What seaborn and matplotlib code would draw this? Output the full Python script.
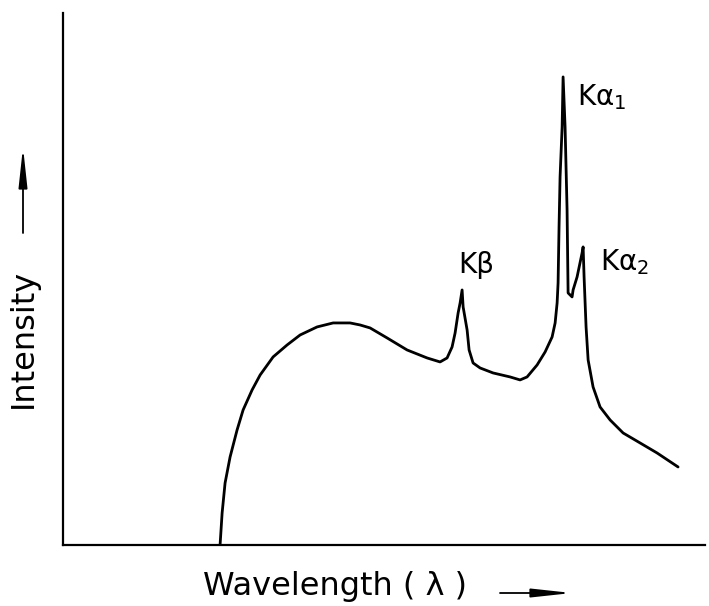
import numpy as np
import pandas as pd
import matplotlib
matplotlib.use("Agg")
import matplotlib.pyplot as plt
import seaborn as sns

sns.set_theme(style="white")
plt.rcParams['font.family'] = ['DejaVu Sans']
plt.rcParams['mathtext.fontset'] = 'dejavusans'

# --- dane (jednostki umowne) ---
wavelength = [24.45, 24.77, 25.23, 26.01, 27.10, 28.04, 29.44, 30.69, 32.71, 34.89,
              36.92, 39.56, 42.06, 44.70, 46.26, 47.82, 50.47, 53.58, 56.70, 58.72,
              59.81, 60.59, 61.06, 61.53, 61.84, 62.15, 62.31, 62.93, 63.24, 63.86,
              64.95, 66.98, 69.63, 71.18, 72.27, 73.83, 75.08, 76.17, 76.64, 76.95,
              77.10, 77.25, 77.41, 77.73, 77.88, 78.19, 78.50, 78.66, 79.28, 79.44,
              80.06, 80.84, 81.00, 81.15, 81.46, 81.78, 82.55, 83.64, 85.20, 87.23,
              89.88, 92.52, 95.79]
intensity = [0.00, 6.02, 11.65, 16.54, 21.62, 25.38, 29.14, 31.95, 35.34, 37.59,
             39.47, 40.98, 41.73, 41.73, 41.35, 40.79, 38.91, 36.65, 35.15, 34.40,
             35.15, 37.22, 39.85, 43.61, 45.49, 47.93, 44.74, 40.41, 36.65, 34.21,
             33.27, 32.33, 31.58, 31.02, 31.58, 33.83, 36.28, 39.10, 41.73, 45.49,
             49.25, 59.77, 69.17, 78.57, 87.97, 78.57, 62.97, 47.37, 46.62, 47.93,
             50.38, 54.89, 56.02, 50.38, 40.98, 34.77, 29.70, 25.94, 23.50, 21.05,
             19.17, 17.29, 14.66]

peak_labels = ["Kβ", "Kα$_{1}$", "Kα$_{2}$"]
peak_x = [61.5, 80.1, 83.6]
peak_y = [51.1, 82.7, 51.7]

df = pd.DataFrame({"wavelength": wavelength, "intensity": intensity})

fig = plt.figure(figsize=(7.09, 6.06), dpi=100)
ax = fig.add_axes([0.089, 0.1007, 0.9055, 0.878])

sns.lineplot(data=df, x="wavelength", y="intensity", sort=False,
             estimator=None, color="black", linewidth=2.0, ax=ax)

ax.set_xlim(0, 100)
ax.set_ylim(0, 100)
ax.set_xticks([])
ax.set_yticks([])
ax.set_xlabel("")
ax.set_ylabel("")
for s in ["top", "right"]:
    ax.spines[s].set_visible(False)
for s in ["left", "bottom"]:
    ax.spines[s].set_color("black")
    ax.spines[s].set_linewidth(1.6)

for lab, x, y in zip(peak_labels, peak_x, peak_y):
    ax.text(x, y, lab, fontsize=20, ha="left", va="baseline", color="black")

# podpisy osi ze strzalkami
fig.text(23 / 709, 1 - 338 / 606, "Intensity", rotation=90, fontsize=23,
         ha="center", va="center", color="black")
fig.text(335 / 709, 1 - 586 / 606, "Wavelength ( λ )", fontsize=23,
         ha="center", va="center", color="black")

arrow = dict(arrowstyle="-|>,head_length=1.2,head_width=0.13",
             color="black", lw=1.3, mutation_scale=20, shrinkA=0, shrinkB=0)
ax.annotate("", xy=(23 / 709, 1 - 147 / 606), xytext=(23 / 709, 1 - 233 / 606),
            xycoords="figure fraction", textcoords="figure fraction",
            arrowprops=arrow, annotation_clip=False)
ax.annotate("", xy=(572 / 709, 1 - 593 / 606), xytext=(500 / 709, 1 - 593 / 606),
            xycoords="figure fraction", textcoords="figure fraction",
            arrowprops=arrow, annotation_clip=False)

fig.savefig("out.png", dpi=100)
